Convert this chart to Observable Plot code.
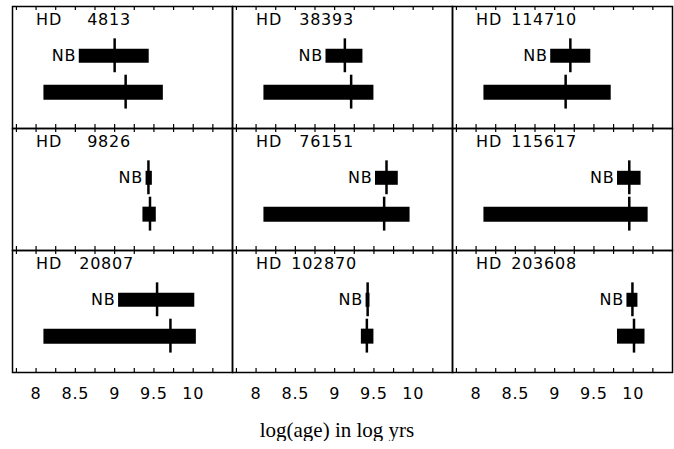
<!DOCTYPE html>
<html><head><meta charset="utf-8">
<script src="https://cdn.jsdelivr.net/npm/d3@7"></script>
<script src="https://cdn.jsdelivr.net/npm/@observablehq/plot@0.6"></script>
<style>
body{margin:0;background:#fff}
#cap{font-family:"Liberation Serif","Times New Roman",serif;font-size:21px;line-height:21px;text-align:center;width:674px;margin-top:10px;color:#000}
</style>
</head><body><div id="chart"></div><div id="cap">log(age) in log yrs</div>
<script>
// Star identifiers (row-major order of panels)
const stars   = ["4813","38393","114710","9826","76151","115617","20807","102870","203608"];
// "NB" age range and best estimate (log yrs)
const nbLow   = [8.55, 8.89, 8.95, 9.40, 9.52, 9.80, 9.05, 9.40, 9.92];
const nbHigh  = [9.44, 9.36, 9.46, 9.48, 9.81, 10.10, 10.02, 9.45, 10.06];
const nbBest  = [9.00, 9.13, 9.20, 9.43, 9.66, 9.95, 9.54, 9.42, 9.99];
// second estimate: range and best value
const allLow  = [8.10, 8.10, 8.10, 9.36, 8.10, 8.10, 8.10, 9.34, 9.80];
const allHigh = [9.62, 9.50, 9.72, 9.53, 9.96, 10.19, 10.04, 9.50, 10.15];
const allBest = [9.14, 9.21, 9.14, 9.45, 9.63, 9.95, 9.71, 9.41, 10.01];
// axis ticks
const xTickLabels = [8, 8.5, 9, 9.5, 10];
const xMinorTicks = [7.75, 8, 8.25, 8.5, 8.75, 9, 9.25, 9.5, 9.75, 10, 10.25];

const rows = stars.map((s, i) => ({
  star: s, col: i % 3, row: Math.floor(i / 3),
  nbLow: nbLow[i], nbHigh: nbHigh[i], nbBest: nbBest[i],
  allLow: allLow[i], allHigh: allHigh[i], allBest: allBest[i]
}));

const Y_TOP = -0.356, Y_BOT = 3, TICK = 0.11, HALF = 0.466;

const chart = Plot.plot({
  width: 674, height: 410,
  marginLeft: 12, marginRight: 2, marginTop: 5, marginBottom: 38,
  style: {fontFamily: "DejaVu Sans, sans-serif", fontSize: "16px", fontWeight: 400, letterSpacing: "0.8px", background: "white", color: "black", display: "block"},
  facet: {data: rows, x: "col", y: "row"},
  fx: {axis: null, padding: 0},
  fy: {axis: null, padding: 0},
  x: {domain: [7.7, 10.5], ticks: xTickLabels, tickSize: 0, tickPadding: 15, tickFormat: d => String(d), label: null},
  y: {domain: [Y_BOT, Y_TOP], axis: null},
  marks: [
    Plot.ruleX(xMinorTicks, {x: d => d, y1: Y_BOT, y2: Y_BOT - TICK, stroke: "black", strokeWidth: 1.2}),
    Plot.ruleX(xMinorTicks, {x: d => d, y1: Y_TOP, y2: Y_TOP + TICK, stroke: "black", strokeWidth: 1.2}),
    Plot.ruleY(rows, {y: 1, x1: "nbLow", x2: "nbHigh", stroke: "black", strokeWidth: 14}),
    Plot.ruleY(rows, {y: 2, x1: "allLow", x2: "allHigh", stroke: "black", strokeWidth: 15}),
    Plot.ruleX(rows, {x: "nbBest", y1: 1 - HALF, y2: 1 + HALF, stroke: "black", strokeWidth: 2.5}),
    Plot.ruleX(rows, {x: "allBest", y1: 2 - HALF, y2: 2 + HALF, stroke: "black", strokeWidth: 2.5}),
    Plot.text(rows, {x: "nbLow", y: 1, text: () => "NB", textAnchor: "end", dx: -3, fill: "black"}),
    Plot.text(rows, {x: 8, y: 0, text: () => "HD", textAnchor: "start", fill: "black"}),
    Plot.text(rows, {x: d => 8.65 - (d.star.length - 4) * 8 / 78.6, y: 0, text: "star", textAnchor: "start", fill: "black"}),
    Plot.frame({stroke: "black", strokeWidth: 1.5})
  ]
});
document.getElementById("chart").appendChild(chart);
</script>
</body></html>
